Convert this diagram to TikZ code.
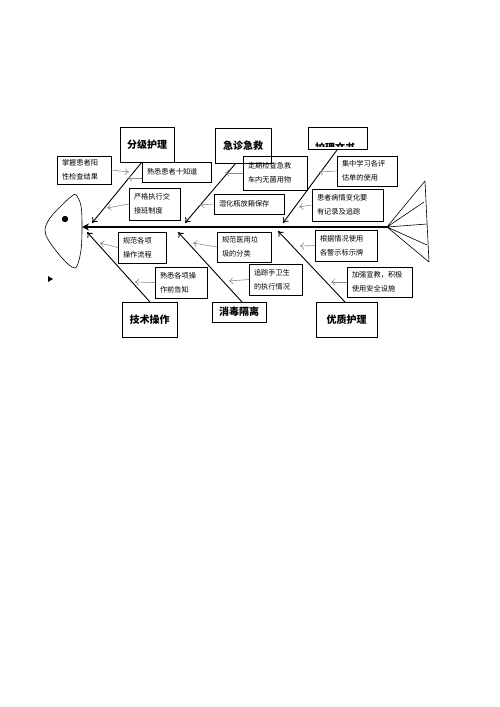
\documentclass[tikz,border=0pt]{standalone}
\usepackage{fontspec}
\setmainfont{Noto Sans CJK SC}
\usetikzlibrary{arrows.meta}
\tikzset{
  mainbox/.style={draw, line width=0.8pt, font=\fontsize{10}{12}\selectfont\bfseries, inner sep=0pt, align=center},
  smallbox/.style={draw, line width=0.6pt, font=\fontsize{7.2}{14}\selectfont, inner xsep=5pt, inner ysep=0pt, align=left},
  bone/.style={line width=0.9pt, -{To[length=5pt,width=7pt,line width=0.9pt]}},
  hint/.style={line width=0.6pt, draw=black!45, -{To[length=4pt,width=7pt]}},
  spine/.style={line width=2.4pt, -{Stealth[length=7pt,width=7pt]}},
  fishline/.style={line width=0.6pt}
}
\begin{document}
\begin{tikzpicture}[x=1pt,y=-1pt]
\useasboundingbox (0,0) rectangle (500,707);
% head
\draw[fishline] plot[smooth cycle, tension=0.6] coordinates {(76,195) (81,206) (82,228) (81,250) (77,266) (72,267) (62,258) (49,241) (45,230) (50,218) (63,204) (72,196)};
\fill (65,219) circle (3.2pt);
\fill (48,276) -- (53,279) -- (48,282) -- cycle;
% spine
\coordinate (tail) at (387,227);
\coordinate (head) at (82,227);
\draw[spine] (tail) -- (head);
% tail fin
\coordinate (t1) at (425,181);
\coordinate (t2) at (424,202);
\coordinate (t3) at (427,224);
\coordinate (t4) at (427,245);
\coordinate (t5) at (429,262);
\draw[fishline] (tail) -- (t1) (tail) -- (t2) (tail) -- (t3) (tail) -- (t4) (tail) -- (t5) (t1) -- (t5);
% main boxes
\node[mainbox, minimum width=54pt, minimum height=35pt] (A) at (147,144.5) {分级护理};
\node[mainbox, minimum width=56pt, minimum height=35pt] (B) at (243,145.5) {急诊急救};
\node[draw, line width=0.8pt, minimum width=59pt, minimum height=22pt, inner sep=0pt] (C) at (338,138.5) {};
\begin{scope}
\clip (308,127) rectangle (368,146);
\node[font=\fontsize{10}{12}\selectfont\bfseries, inner sep=0pt] (Ct) at (335,148) {护理文书};
\end{scope}
\node[mainbox, minimum width=55pt, minimum height=35pt] (D) at (149.5,319.5) {技术操作};
\node[mainbox, minimum width=54pt, minimum height=20pt] (E) at (239,312) {消毒隔离};
\node[mainbox, minimum width=61pt, minimum height=35pt] (F) at (346.5,319.5) {优质护理};
% bone tips
\coordinate (a1) at (142,162);
\coordinate (atip) at (92,223);
\coordinate (b1) at (236,163);
\coordinate (btip) at (185,223);
\coordinate (c1) at (337,150);
\coordinate (ctip) at (283,223);
\coordinate (d1) at (150,302);
\coordinate (dtip) at (87,232);
\coordinate (e1) at (242,302);
\coordinate (etip) at (178,232);
\coordinate (f1) at (345,302);
\coordinate (ftip) at (278,231);
\draw[bone] (a1) -- (atip);
\draw[bone] (b1) -- (btip);
\draw[bone] (c1) -- (ctip);
\draw[bone] (d1) -- (dtip);
\draw[bone] (e1) -- (etip);
\draw[bone] (f1) -- (ftip);
% small boxes
\node[smallbox, text width=44pt, minimum height=28pt] (s1) at (84,170) {掌握患者阳\\性检查结果};
\node[smallbox, text width=59pt, minimum height=20pt] (s2) at (176.5,172) {熟悉患者十知道};
\node[smallbox, text width=41pt, minimum height=32pt] (s3) at (154.5,204) {严格执行交\\接班制度};
\node[smallbox, text width=54pt, minimum height=34pt] (s4) at (275,173) {定期检查急救\\车内无菌用物};
\node[smallbox, text width=60pt, minimum height=20pt] (s5) at (249,204) {湿化瓶放箱保存};
\node[smallbox, text width=50pt, minimum height=30pt] (s6) at (367,171) {集中学习各评\\估单的使用};
\node[smallbox, text width=61pt, minimum height=32pt] (s7) at (347.5,205) {患者病情变化要\\有记录及追踪};
\node[smallbox, text width=38pt, minimum height=31pt] (s8) at (142,247.5) {规范各项\\操作流程};
\node[smallbox, text width=42pt, minimum height=31pt] (s9) at (181,282.5) {熟悉各项操\\作前告知};
\node[smallbox, text width=44pt, minimum height=30pt] (s10) at (244,247) {规范医用垃\\圾的分类};
\node[smallbox, text width=43pt, minimum height=31pt] (s11) at (275.5,279.5) {追踪手卫生\\的执行情况};
\node[smallbox, text width=52pt, minimum height=31pt] (s12) at (346,245.5) {根据情况使用\\各警示标示牌};
\node[smallbox, text width=55pt, minimum height=30pt] (s13) at (379.5,282) {加强宣教，积极\\使用安全设施};
% hint arrows
\coordinate (h1) at (129,172);
\coordinate (h2) at (128,178);
\coordinate (h3) at (107,208);
\coordinate (h4) at (225,173);
\coordinate (h5) at (200,205);
\coordinate (h6) at (319,172);
\coordinate (h7) at (299,207);
\coordinate (h8) at (100,243);
\coordinate (h9) at (135,282);
\coordinate (h10) at (193,243);
\coordinate (h11) at (229,281);
\coordinate (h12) at (300,246);
\coordinate (h13) at (331,282);
\draw[hint] (s1.east) -- (h1);
\draw[hint] (s2.west |- h2) -- (h2);
\draw[hint] (s3.west) -- (h3);
\draw[hint] (s4.west) -- (h4);
\draw[hint] (s5.west) -- (h5);
\draw[hint] (s6.west) -- (h6);
\draw[hint] (s7.west) -- (h7);
\draw[hint] (s8.west) -- (h8);
\draw[hint] (s9.west) -- (h9);
\draw[hint] (s10.west) -- (h10);
\draw[hint] (s11.west) -- (h11);
\draw[hint] (s12.west) -- (h12);
\draw[hint] (s13.west) -- (h13);
\end{tikzpicture}
\end{document}
